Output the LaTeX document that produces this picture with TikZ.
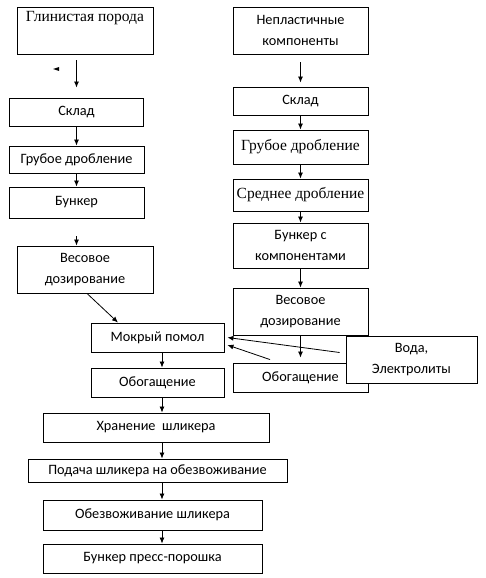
\documentclass[tikz,border=0pt]{standalone}
\usepackage{fontspec}
\setmainfont{Carlito}
\newfontfamily\tms{Liberation Serif}
\usetikzlibrary{arrows.meta,calc}
\newcommand\tmsbig{\tms\fontsize{15.5}{21}\selectfont}
\begin{document}
\begin{tikzpicture}[x=1pt,y=-1pt,
  box/.style={draw, line width=0.9pt, inner sep=0pt, align=center, fill=white,
    font=\fontsize{14.3}{21}\selectfont},
  arr/.style={-{Latex[length=6pt,width=5pt]}, line width=0.8pt}]
\useasboundingbox (0,0) rectangle (485,578);
\coordinate (cx) at (162,0);
% left column
\node[box,minimum width=136pt,minimum height=47pt] (gp) at (85,30.5) {\tmsbig Глинистая порода\\\strut};
\node[box,minimum width=134pt,minimum height=28pt] (sk1) at (76.5,112) {Склад};
\node[box,minimum width=135pt,minimum height=27pt] (gd1) at (76.5,159.5) {Грубое дробление};
\node[box,minimum width=135pt,minimum height=31pt] (bn1) at (76.5,202.5) {Бункер};
\node[box,minimum width=136pt,minimum height=47pt] (vd1) at (85,269.5) {Весовое\\дозирование};
% right column
\node[box,minimum width=135pt,minimum height=47pt] (np) at (300.5,30.5) {Непластичные\\компоненты};
\node[box,minimum width=135pt,minimum height=28pt] (sk2) at (300.5,101) {Склад};
\node[box,minimum width=135pt,minimum height=34pt] (gd2) at (300.5,147) {\tmsbig Грубое дробление};
\node[box,minimum width=135pt,minimum height=32pt] (sd) at (300.5,195) {\tmsbig Среднее дробление};
\node[box,minimum width=135pt,minimum height=45pt] (bk) at (300.5,245.5) {Бункер с\\компонентами};
\node[box,minimum width=135pt,minimum height=47pt] (vd2) at (300.5,311.5) {Весовое\\дозирование};
\node[box,minimum width=135pt,minimum height=29pt] (ob3) at (300.5,377.5) {Обогащение};
% lower chain
\node[box,minimum width=133pt,minimum height=29pt] (mp) at (157.5,337.5) {Мокрый помол};
\node[box,minimum width=133pt,minimum height=29pt] (ob1) at (157.5,382.5) {Обогащение};
\node[box,minimum width=226pt,minimum height=29pt] (hr) at (156,427.5) {Хранение\ \ шликера};
\node[box,minimum width=259pt,minimum height=23pt] (pd) at (157.5,470.5) {\raisebox{-2pt}{Подача шликера на обезвоживание}};
\node[box,minimum width=219pt,minimum height=30pt] (ob2) at (152.5,515) {Обезвоживание шликера};
\node[box,minimum width=219pt,minimum height=29pt] (bp) at (152.5,558.5) {Бункер пресс-порошка};
% stray arrowhead
\fill (53,69) -- (59,67) -- (59,71) -- cycle;
% connectors left
\draw[arr] ($(sk1.north |- gp.south)+(0,6)$) -- ($(sk1.north)+(0,-10)$);
\draw[arr] (sk1.south) -- (gd1.north);
\draw[arr] (gd1.south) -- (bn1.north);
\draw[arr] ($(bn1.south)+(0,18)$) -- (vd1.north -| bn1.south);
\draw[arr] ($(vd1.south)+(2,0)$) -- ($(mp.north)+(-39.5,0)$);
\draw[arr] (mp.south -| cx) -- (ob1.north -| cx);
\draw[arr] (ob1.south -| cx) -- (hr.north -| cx);
\draw[arr] (hr.south -| cx) -- (pd.north -| cx);
\draw[arr] (pd.south -| cx) -- (ob2.north -| cx);
\draw[arr] (ob2.south -| cx) -- (bp.north -| cx);
% connectors right
\draw[arr] ($(np.south)+(0,8)$) -- ($(sk2.north)+(0,-4)$);
\draw[arr] (sk2.south) -- (gd2.north);
\draw[arr] (gd2.south) -- (sd.north);
\draw[arr] (sd.south) -- (bk.north);
\draw[arr] (bk.south) -- (vd2.north);
\draw[arr] (vd2.south) -- ($(ob3.north)+(0,-5)$);
% water box
\node[box,minimum width=131pt,minimum height=47pt] (vo) at (411.5,359.5) {Вода,\\Электролиты};
\draw[arr] ($(vo.west)+(-6,-7)$) -- ($(mp.east)+(3,0)$);
\draw[arr] ($(ob3.north)+(-30.5,-3)$) -- ($(mp.east)+(3,7.5)$);
\end{tikzpicture}
\end{document}
